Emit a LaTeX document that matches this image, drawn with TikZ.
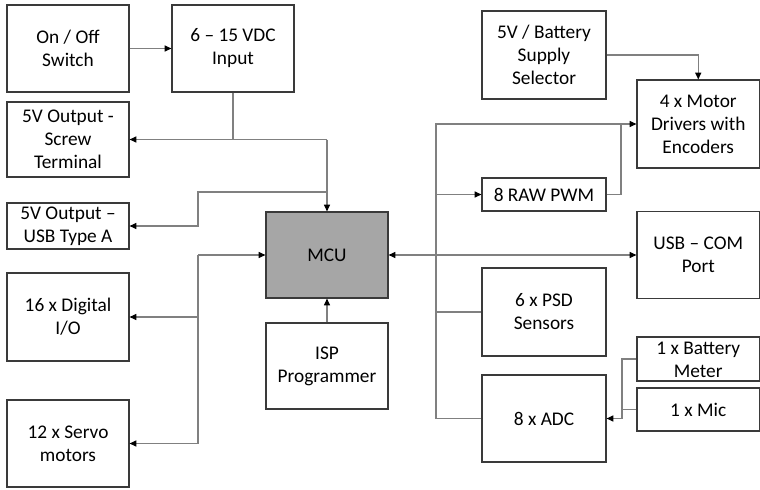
\documentclass[tikz,border=0pt]{standalone}
\usepackage{fontspec}
\setmainfont{Carlito}
\usetikzlibrary{arrows.meta}
\definecolor{conncol}{HTML}{808080}
\definecolor{boxcol}{HTML}{3A3A3A}
\definecolor{mcufill}{HTML}{A6A6A6}
\begin{document}
\begin{tikzpicture}[x=0.75pt,y=-0.75pt,
  blk/.style={draw=boxcol,line width=0.9pt,inner sep=0pt,align=center,
    font=\fontsize{14.5}{17.25}\selectfont},
  sz/.style 2 args={minimum width=#1*0.75pt,minimum height=#2*0.75pt},
  txt/.style={inner sep=0pt,align=center,font=\fontsize{14.5}{17.25}\selectfont},
  ln/.style={draw=conncol,line width=0.8pt},
  arr/.style={ln,-{Triangle[length=5pt,width=4.5pt,color=black]}},
  arrb/.style={ln,{Triangle[length=5pt,width=4.5pt,color=black]}-{Triangle[length=5pt,width=4.5pt,color=black]}}
]
\useasboundingbox (0,0) rectangle (760,489);
% left column
\node[blk,sz={122}{87}] (sw) at (68,48.5) {On / Off\\Switch};
\node[blk,sz={122}{87}] (vdc) at (233,48.5) {6 -- 15 VDC\\Input};
\node[blk,sz={122}{75}] (screw) at (68,139.5) {5V Output -\\Screw\\Terminal};
\node[blk,sz={122}{46}] (usba) at (68,226) {5V Output --\\USB Type A};
\node[blk,sz={122}{88}] (dio) at (68,317) {16 x Digital\\I/O};
\node[blk,sz={122}{87}] (servo) at (68,443.5) {12 x Servo\\motors};
% centre
\node[blk,fill=mcufill,sz={122}{86}] (mcu) at (327,255) {MCU};
\node[blk,sz={122}{86}] (isp) at (327,366) {ISP\\Programmer};
% right
\node[blk,sz={124}{88}] (sel) at (544,55) {5V / Battery\\Supply\\Selector};
\node[blk,sz={122.5}{88}] (mot) at (698.25,124) {4 x Motor\\Drivers with\\Encoders};
\node[blk,sz={124}{33}] (pwm) at (544,194.5) {8 RAW PWM};
\node[blk,sz={122.5}{87}] (com) at (698.25,255) {USB -- COM\\Port};
\node[blk,sz={124}{88}] (psd) at (544,312) {6 x PSD\\Sensors};
\node[blk,sz={124}{87}] (adc) at (544,418.5) {8 x ADC};
\node[blk,sz={122.5}{44}] (bat) at (698.25,359) {};
\node[txt] (battxt) at (698.25,360) {1 x Battery\\Meter};
\node[blk,sz={122.5}{43}] (mic) at (698.25,409.5) {1 x Mic};
% junction coordinates
\coordinate (j1) at (327,139.5);
\coordinate (j2) at (327,192);
\coordinate (j2b) at (198,192);
\coordinate (k) at (198,255);
\coordinate (t) at (436,255);
\coordinate (p1) at (621,124);
\coordinate (b1) at (622,359);
% connectors
\draw[arr] (sw.east) -- (vdc.west);
\draw[ln] (vdc.south) -- (vdc.south |- j1);
\draw[arr] (j1) -- (screw.east);
\draw[arr] (j1) -- (mcu.north);
\draw[arr] (j2) -- (j2b) |- (usba.east);
\draw[arr] (k) -- (mcu.west);
\draw[arr] (k) |- (dio.east);
\draw[arr] (k) |- (servo.east);
\draw[arr] (isp.north) -- (mcu.south);
\draw[arrb] (mcu.east) -- (com.west);
\draw[arr] (t) |- (mot.west);
\draw[arr] (t) |- (pwm.west);
\draw[ln] (t) |- (psd.west);
\draw[ln] (t) |- (adc.west);
\draw[ln] (pwm.east) -| (p1);
\draw[arr] (sel.east) -| (mot.north);
\draw[arr] (bat.west) -- (b1) |- (adc.east);
\draw[ln] (mic.west) -- (mic.west -| b1);
\end{tikzpicture}
\end{document}
